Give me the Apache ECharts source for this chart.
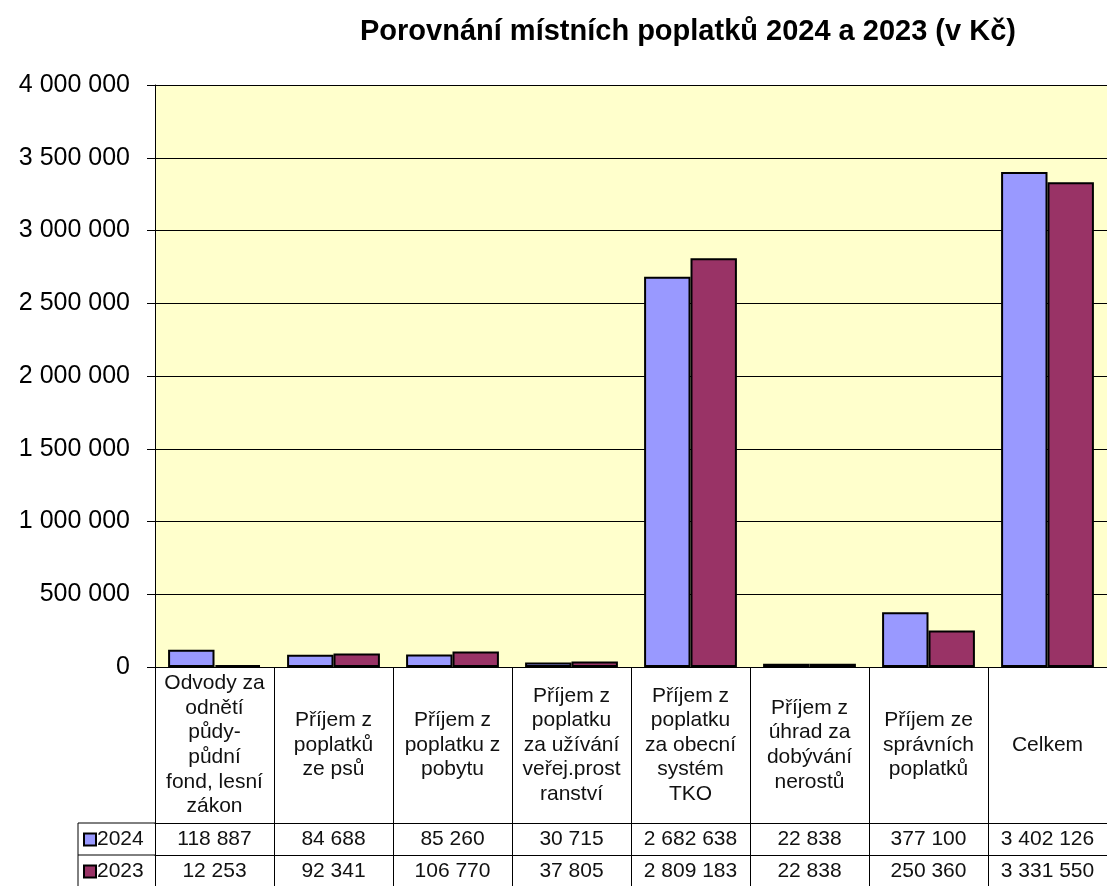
<!DOCTYPE html>
<html>
<head>
<meta charset="utf-8">
<script src="https://cdn.jsdelivr.net/npm/echarts@6/dist/echarts.min.js"></script>
<style>
html,body{margin:0;padding:0;background:#fff;}
#chart{width:1107px;height:886px;}
</style>
</head>
<body>
<div id="chart"></div>
<script>
var title = 'Porovnání místních poplatků 2024 a 2023 (v Kč)';
var categories = [
  'Odvody za\nodnětí\npůdy-\npůdní\nfond, lesní\nzákon',
  'Příjem z\npoplatků\nze psů',
  'Příjem z\npoplatku z\npobytu',
  'Příjem z\npoplatku\nza užívání\nveřej.prost\nranství',
  'Příjem z\npoplatku\nza obecní\nsystém\nTKO',
  'Příjem z\núhrad za\ndobývání\nnerostů',
  'Příjem ze\nsprávních\npoplatků',
  'Celkem'
];
var seriesNames = ['2024', '2023'];
var values2024 = [118887, 84688, 85260, 30715, 2682638, 22838, 377100, 3402126];
var values2023 = [12253, 92341, 106770, 37805, 2809183, 22838, 250360, 3331550];
var yMin = 0, yMax = 4000000, yInterval = 500000;

var FONT = '"Liberation Sans", Arial, sans-serif';
function fmt(v) { return String(v).replace(/\B(?=(\d{3})+(?!\d))/g, ' '); }

var chart = echarts.init(document.getElementById('chart'), null, {renderer: 'canvas'});
var gridLeft = 155, gridTop = 85, gridH = 582, gridW = 954;
var axisY = gridTop + gridH; // 667
var labelBand = 156;         // label area height (667 -> 823)
var rowH = 32;

var rowAxis = function (vals, offset) {
  return {
    type: 'category', data: categories, position: 'bottom', offset: offset,
    boundaryGap: true,
    axisLine: {show: true, lineStyle: {color: '#000', width: 1}},
    axisTick: {show: false},
    axisLabel: {
      interval: 0, margin: rowH / 2, verticalAlign: 'middle',
      fontFamily: FONT, fontSize: 21, color: '#111',
      formatter: function (v, i) { return fmt(vals[i]); }
    },
    splitLine: {show: false}
  };
};

var legendFor = function (name, row) {
  return {
    data: [name], orient: 'horizontal', left: 83,
    top: axisY + labelBand + row * rowH + 6,
    itemWidth: 12, itemHeight: 12, itemGap: 0, selectedMode: false,
    icon: 'rect', padding: 0,
    textStyle: {fontFamily: FONT, fontSize: 21, color: '#111', lineHeight: 21, padding: [0, 0, 0, -4]}
  };
};

chart.setOption({
  animation: false,
  backgroundColor: '#fff',
  title: {
    text: title, left: 355, top: 12,
    textStyle: {fontFamily: FONT, fontWeight: 'bold', fontSize: 29, color: '#000'}
  },
  legend: [legendFor(seriesNames[0], 0), legendFor(seriesNames[1], 1)],
  grid: {
    left: gridLeft, top: gridTop, width: gridW, height: gridH,
    show: true, backgroundColor: '#FFFFCC', borderWidth: 0, containLabel: false
  },
  xAxis: [
    {
      type: 'category', data: categories, position: 'bottom', boundaryGap: true,
      axisLine: {show: true, lineStyle: {color: '#000', width: 1}},
      axisTick: {show: true, alignWithLabel: false, interval: 0, length: labelBand + 2 * rowH + 4, lineStyle: {color: '#000', width: 1}},
      axisLabel: {
        interval: 0, margin: labelBand / 2, verticalAlign: 'middle', align: 'center',
        fontFamily: FONT, fontSize: 21, lineHeight: 24.6, color: '#111'
      },
      splitLine: {show: false}
    },
    rowAxis(values2024, labelBand),
    rowAxis(values2023, labelBand + rowH)
  ],
  yAxis: {
    type: 'value', min: yMin, max: yMax, interval: yInterval,
    axisLine: {show: true, lineStyle: {color: '#000', width: 1}},
    axisTick: {show: true, length: 8, lineStyle: {color: '#000'}},
    axisLabel: {
      margin: 25, fontFamily: FONT, fontSize: 25, color: '#000',
      formatter: function (v) { return fmt(v); }
    },
    splitLine: {show: true, lineStyle: {color: '#000', width: 1}}
  },
  series: [
    {
      name: seriesNames[0], type: 'bar', data: values2024, xAxisIndex: 0,
      barGap: '0%', barCategoryGap: '22%',
      itemStyle: {color: '#9999FF', borderColor: '#000', borderWidth: 2}
    },
    {
      name: seriesNames[1], type: 'bar', data: values2023, xAxisIndex: 0,
      barGap: '0%', barCategoryGap: '22%',
      itemStyle: {color: '#993366', borderColor: '#000', borderWidth: 2}
    }
  ],
  graphic: [
    {type: 'line', shape: {x1: 78, y1: axisY + labelBand, x2: gridLeft, y2: axisY + labelBand}, style: {stroke: '#000', lineWidth: 1}},
    {type: 'line', shape: {x1: 78, y1: axisY + labelBand + rowH, x2: gridLeft, y2: axisY + labelBand + rowH}, style: {stroke: '#000', lineWidth: 1}},
    {type: 'line', shape: {x1: 78, y1: axisY + labelBand, x2: 78, y2: 886}, style: {stroke: '#000', lineWidth: 1}}
  ]
});
</script>
</body>
</html>
